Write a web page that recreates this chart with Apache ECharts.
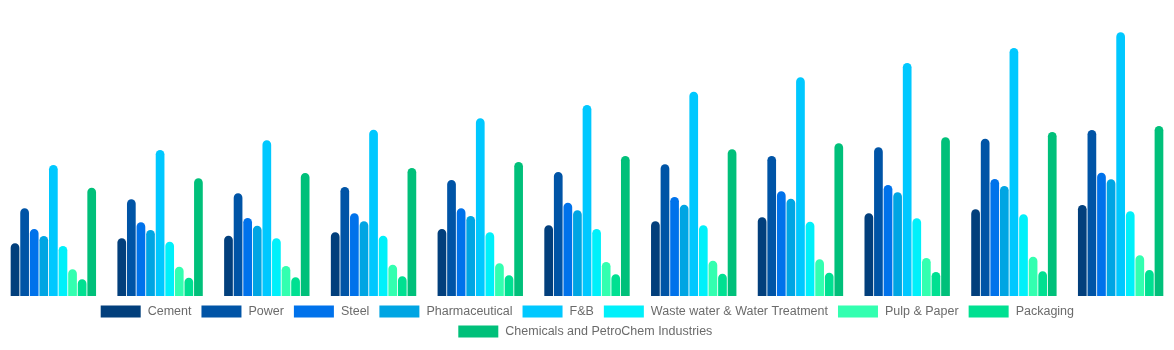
<!DOCTYPE html>
<html>
<head>
<meta charset="utf-8">
<script src="https://cdn.jsdelivr.net/npm/echarts@6/dist/echarts.min.js"></script>
<style>
html,body{margin:0;padding:0;background:#fff;}
#chart{width:1174px;height:350px;}
</style>
</head>
<body>
<div id="chart"></div>
<script>
const categories = ['2020','2021','2022','2023','2024','2025','2026','2027','2028','2029','2030'];
const seriesNames = ['Cement','Power','Steel','Pharmaceutical','F&B','Waste water & Water Treatment','Pulp & Paper','Packaging','Chemicals and PetroChem Industries'];
const cement   = [52.7, 57.7, 60.3, 63.7, 67.0, 70.7, 74.7, 78.7, 82.7, 86.7, 91.0];
const power    = [87.7, 96.7, 102.7, 109.0, 116.0, 124.0, 131.7, 140.0, 148.7, 157.3, 166.0];
const steel    = [67.0, 73.7, 78.0, 82.7, 87.7, 93.3, 99.0, 104.7, 111.0, 117.0, 123.3];
const pharma   = [60.0, 66.0, 70.3, 74.7, 80.0, 85.7, 91.3, 97.3, 103.7, 110.0, 116.7];
const fnb      = [131.0, 146.0, 155.7, 166.3, 177.7, 191.0, 204.3, 218.7, 233.0, 248.0, 263.7];
const waste    = [50.0, 54.3, 57.7, 60.3, 63.7, 67.0, 70.7, 74.3, 77.7, 81.7, 84.7];
const pulp     = [26.7, 29.3, 30.0, 31.3, 32.7, 34.0, 35.3, 36.7, 38.0, 39.3, 40.7];
const packaging= [16.7, 18.3, 18.7, 19.7, 20.7, 21.7, 22.3, 23.3, 24.0, 24.7, 26.0];
const chem     = [108.3, 117.7, 123.0, 128.0, 134.0, 140.0, 146.7, 152.7, 158.7, 164.0, 170.0];
const seriesData = [cement, power, steel, pharma, fnb, waste, pulp, packaging, chem];
const colors = ['#023f7c','#0054a6','#0072eb','#00a5e3','#00c8ff','#00f0fa','#33ffb0','#00e091','#00c07a'];

const chart = echarts.init(document.getElementById('chart'));
const textStyle = {color:'#6b6b6b', fontSize:12.5, fontFamily:'"Liberation Sans", Arial, sans-serif', padding:[0,0,0,2]};
const legendBase = {icon:'rect', itemWidth:40, itemHeight:12, itemGap:10, padding:0, textStyle:textStyle};
chart.setOption({
  animation:false,
  color: colors,
  grid:{left:0, right:0, top:26, bottom:54, containLabel:false},
  xAxis:{type:'category', data:categories, show:false},
  yAxis:{type:'value', min:0, max:270, show:false},
  legend:[
    Object.assign({data:seriesNames.slice(0,8), left:100.7, top:305}, legendBase),
    Object.assign({data:seriesNames.slice(8), left:458.3, top:325}, legendBase)
  ],
  series: seriesNames.map((n,i)=>({
    name:n, type:'bar', data:seriesData[i],
    barGap:'10%', barCategoryGap:'20%',
    itemStyle:{borderRadius:[5,5,0,0]}
  }))
});
</script>
</body>
</html>
